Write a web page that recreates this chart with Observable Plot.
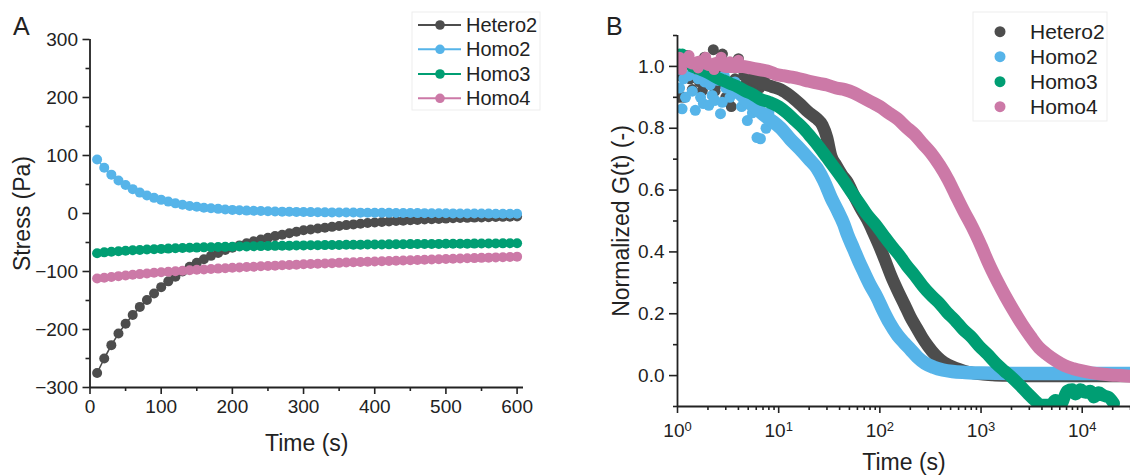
<!DOCTYPE html>
<html><head><meta charset="utf-8">
<script src="https://cdn.jsdelivr.net/npm/d3@7"></script>
<script src="https://cdn.jsdelivr.net/npm/@observablehq/plot@0.6"></script>
<style>
html,body{margin:0;padding:0;background:#fff;}
#wrap{position:relative;width:1130px;height:475px;overflow:hidden;font-family:"Liberation Sans",Arial,sans-serif;}
#pa,#pb,#overlay{position:absolute;top:0;}
#pa{left:0;} #pb{left:565px;} #overlay{left:0;pointer-events:none;}
</style></head>
<body><div id="wrap"><div id="pa"></div><div id="pb"></div><svg id="overlay" width="1130" height="475"></svg></div>
<script>
// ---------- Panel A data ----------
const seriesNames = ["Hetero2", "Homo2", "Homo3", "Homo4"];
const seriesColors = ["#4d4d4d", "#56b4e9", "#009e73", "#cc79a7"];
const timeA = [10,20,30,40,50,60,70,80,90,100,110,120,130,140,150,160,170,180,190,200,
  210,220,230,240,250,260,270,280,290,300,310,320,330,340,350,360,370,380,390,400,
  410,420,430,440,450,460,470,480,490,500,510,520,530,540,550,560,570,580,590,600];
const hetero2A = [-275,-250,-227,-207,-190,-175,-161,-149,-138,-127,
  -117,-109,-100,-92,-85,-79,-73,-68,-63,-59,
  -55,-51.5,-48,-45,-42,-39,-36.5,-34,-31.5,-29,
  -27.5,-26,-24.5,-23,-21.5,-20,-18.8,-17.6,-16.5,-15.5,
  -14.6,-13.8,-13,-12.3,-11.6,-11,-10.4,-9.8,-9.3,-8.8,
  -8.3,-7.9,-7.5,-7.1,-6.7,-6.4,-6.1,-5.8,-5.5,-5.2];
const homo2A = [93,79,67,57,49,42,36,31,27,23.5,
  20.5,17.5,15,13,11.5,10,9,8,7,6.2,
  5.6,5,4.6,4.2,3.8,3.5,3.2,3,2.8,2.6,
  2.4,2.2,2,1.9,1.8,1.7,1.6,1.5,1.4,1.3,
  1.2,1.1,1,0.9,0.8,0.7,0.6,0.5,0.4,0.3,
  0.2,0.1,0,0,-0.1,-0.2,-0.3,-0.4,-0.5,-0.5];
const homo3A = [-68.5,-67,-66,-65,-64.2,-63.5,-62.8,-62.2,-61.6,-61,
  -60.5,-60,-59.6,-59.2,-58.8,-58.4,-58.1,-57.8,-57.5,-57.2,
  -57,-56.7,-56.5,-56.2,-56,-55.8,-55.6,-55.4,-55.2,-55,
  -54.8,-54.7,-54.5,-54.3,-54.2,-54,-53.9,-53.7,-53.6,-53.4,
  -53.3,-53.2,-53,-52.9,-52.8,-52.7,-52.6,-52.5,-52.4,-52.3,
  -52.2,-52.1,-52,-51.9,-51.8,-51.7,-51.6,-51.5,-51.4,-51.3];
const homo4A = [-112,-110.8,-109.4,-108,-106.8,-105.6,-104.5,-103.4,-102.3,-101.3,
  -100.4,-99.5,-98.7,-97.9,-97.1,-96.4,-95.7,-95,-94.3,-93.6,
  -93,-92.3,-91.7,-91.1,-90.5,-89.9,-89.3,-88.7,-88.2,-87.6,
  -87.1,-86.6,-86.1,-85.6,-85.1,-84.6,-84.1,-83.6,-83.2,-82.7,
  -82.3,-81.8,-81.4,-81,-80.5,-80.1,-79.7,-79.3,-78.9,-78.5,
  -78.1,-77.7,-77.3,-76.9,-76.5,-76.1,-75.7,-75.3,-74.9,-74.4];
const yMajorA = [-300,-200,-100,0,100,200,300];
const yMinorA = [-250,-150,-50,50,150,250];
const xMajorA = [0,100,200,300,400,500,600];
const xMinorA = [50,150,250,350,450,550];

// ---------- Panel B data: [time (s), normalized G(t)] ----------
const hetero2Noise = [[1.0,0.97],[1.05,0.90],[1.1,1.0],[1.16,0.90],[1.26,1.035],[1.33,0.96],[1.4,0.925],[1.55,0.99],
  [1.65,0.95],[1.76,0.922],[1.85,1.03],[2.0,0.96],[2.1,1.0],[2.26,1.054],[2.35,0.92],[2.45,0.94],[2.6,0.98],[2.78,1.04],
  [2.9,0.95],[3.0,0.90],[3.2,0.89],[3.4,0.87],[3.55,0.93],[3.7,0.96],[4.0,1.025],[4.2,0.93],[4.5,0.97],[4.8,0.95],
  [5.3,0.93],[5.8,0.97],[6.5,0.93],[7.2,0.96]];
const hetero2B = [[5,0.97],[6,0.955],[7,0.945],[8.5,0.935],[10.5,0.925],[13,0.905],[16,0.88],[20,0.85],[24,0.83],
  [27,0.81],[30,0.77],[33,0.71],[37,0.68],[42,0.65],[48,0.625],[55,0.585],[65,0.54],[75,0.505],[87,0.46],[100,0.415],
  [115,0.365],[130,0.32],[150,0.275],[175,0.23],[200,0.19],[230,0.155],[260,0.125],[300,0.095],[350,0.068],[400,0.05],
  [470,0.035],[560,0.024],[680,0.015],[820,0.009],[1000,0.005],[1300,0.002],[1800,0.0],[2500,-0.001],[4000,-0.001],
  [7000,-0.001],[12000,-0.001],[20000,-0.001],[30000,-0.001]];
const homo2Noise = [[1.0,0.99],[1.05,0.93],[1.11,0.863],[1.15,0.96],[1.2,0.90],[1.3,0.97],[1.4,0.92],[1.5,0.858],
  [1.6,0.96],[1.69,0.90],[1.8,0.88],[1.85,0.95],[2.04,0.874],[2.1,0.94],[2.2,0.906],[2.35,0.89],[2.47,0.955],
  [2.66,0.847],[2.77,0.884],[2.9,0.97],[3.0,0.93],[3.3,0.90],[3.7,0.95],[4.3,0.87],[4.9,0.825],[5.5,0.85],
  [6.1,0.77],[6.6,0.766],[7.5,0.80],[8.0,0.85]];
const homo2B = [[3.5,0.93],[4.2,0.91],[5,0.885],[6,0.865],[7,0.845],[8.5,0.825],[10.5,0.80],[13,0.765],[16,0.735],
  [20,0.70],[24,0.67],[28,0.63],[33,0.575],[38,0.535],[44,0.49],[48,0.455],[55,0.41],[62,0.37],[70,0.333],[81,0.29],
  [93,0.255],[108,0.21],[125,0.17],[150,0.13],[175,0.105],[200,0.085],[235,0.06],[280,0.04],[340,0.027],[420,0.018],
  [520,0.013],[700,0.01],[1000,0.008],[2000,0.007],[5000,0.007],[10000,0.007],[20000,0.007],[30000,0.007]];
const homo3Noise = [[1.0,1.01],[1.05,1.04],[1.12,1.04],[1.2,1.01],[1.3,1.02]];
const homo3B = [[1.4,1.0],[1.7,0.99],[2,0.98],[2.4,0.965],[2.8,0.955],[3.3,0.945],[3.9,0.935],[4.7,0.92],[5.5,0.91],
  [6.5,0.895],[8,0.885],[10,0.87],[12,0.85],[14.5,0.825],[17.5,0.80],[21,0.77],[25,0.74],[30,0.705],[36,0.67],
  [43,0.635],[52,0.595],[62,0.56],[75,0.52],[90,0.49],[108,0.455],[130,0.42],[155,0.39],[185,0.355],[220,0.325],
  [265,0.29],[320,0.26],[385,0.235],[460,0.205],[550,0.18],[660,0.15],[800,0.125],[960,0.095],[1150,0.07],[1400,0.04],
  [1700,0.015],[2000,-0.005],[2400,-0.03],[2900,-0.058],[3400,-0.08],[3865,-0.095],[4850,-0.095],[5440,-0.08],
  [6090,-0.095],[7100,-0.05],[7950,-0.045],[8570,-0.06],[9600,-0.045],[10760,-0.055],[12050,-0.05],[13000,-0.07],
  [14570,-0.055],[16330,-0.065],[18290,-0.07],[20480,-0.09]];
const homo4Noise = [[1.05,1.03],[1.1,0.99],[1.3,1.035],[1.6,0.995],[1.9,1.03],[2.3,0.99],[2.7,1.03],[3.3,1.015],[4.0,1.02]];
const homo4B = [[1,1.01],[1.2,1.02],[1.45,1.01],[1.75,1.015],[2.1,1.005],[2.5,1.01],[3,1.0],[3.6,1.0],[4.4,1.0],
  [5.3,0.995],[6.4,0.99],[7.7,0.985],[9.3,0.975],[11,0.97],[13.5,0.965],[16,0.96],[20,0.952],[25,0.945],[30,0.94],
  [37,0.93],[45,0.925],[55,0.915],[67,0.9],[82,0.885],[100,0.87],[122,0.85],[150,0.83],[180,0.805],[220,0.78],
  [265,0.75],[320,0.72],[390,0.68],[470,0.635],[560,0.585],[680,0.53],[820,0.48],[1000,0.42],[1200,0.36],[1450,0.305],
  [1750,0.255],[2100,0.21],[2550,0.165],[3100,0.125],[3750,0.09],[4500,0.068],[5500,0.048],[6700,0.032],[8200,0.022],
  [10000,0.015],[12500,0.009],[15500,0.005],[19000,0.002],[24000,0.0],[30000,-0.002]];
const yMajorB = [0,0.2,0.4,0.6,0.8,1.0];
const yMinorB = [-0.1,0.1,0.3,0.5,0.7,0.9,1.1];
const xMajorB = [1,10,100,1000,10000];
const xMinorB = [2,3,4,5,6,7,8,9,20,30,40,50,60,70,80,90,200,300,400,500,600,700,800,900,
  2000,3000,4000,5000,6000,7000,8000,9000,20000,30000];
const supDigits = ["⁰","¹","²","³","⁴"];

const FONT = '"Liberation Sans", Arial, sans-serif';
const INK = "#222";
const TICKFS = 19, TITLEFS = 23;

// ---------- Panel A ----------
const seriesA = [hetero2A, homo2A, homo3A, homo4A].map((vals, i) =>
  vals.map((v, j) => ({t: timeA[j], v, name: seriesNames[i]})));
const marksA = [];
seriesA.forEach((rows, i) => {
  marksA.push(Plot.line(rows, {x: "t", y: "v", stroke: seriesColors[i], strokeWidth: 1.6}));
  marksA.push(Plot.dot(rows, {x: "t", y: "v", r: 5, fill: seriesColors[i]}));
});
const plotA = Plot.plot({
  width: 565, height: 475,
  marginLeft: 89.5, marginRight: 42, marginTop: 39, marginBottom: 88,
  x: {domain: [0, 609]},
  y: {domain: [-300, 300]},
  style: {fontFamily: FONT, color: INK, background: "transparent", overflow: "visible"},
  marks: [
    ...marksA,
    Plot.axisY({ticks: yMajorA, tickSize: 7, tickPadding: 5, fontSize: TICKFS, strokeWidth: 1.6, label: null}),
    Plot.axisY({ticks: yMinorA, tickSize: 4, tickFormat: () => "", strokeWidth: 1.6, label: null}),
    Plot.axisX({ticks: xMajorA, tickSize: 7, tickPadding: 5, fontSize: TICKFS, strokeWidth: 1.6, label: null}),
    Plot.axisX({ticks: xMinorA, tickSize: 4, tickFormat: () => "", strokeWidth: 1.6, label: null}),
    Plot.ruleX([0], {stroke: INK, strokeWidth: 1.8}),
    Plot.ruleY([-300], {stroke: INK, strokeWidth: 1.8}),
    Plot.text(["Stress (Pa)"], {text: d => d, frameAnchor: "left", dx: -60, rotate: -90, textAnchor: "middle", lineAnchor: "bottom", fontSize: TITLEFS, fill: INK}),
    Plot.text(["Time (s)"], {text: d => d, frameAnchor: "bottom", dy: 63, textAnchor: "middle", lineAnchor: "bottom", fontSize: TITLEFS, fill: INK})
  ]
});
document.getElementById("pa").appendChild(plotA);

// ---------- Panel B ----------
const toRows = (arr, name) => arr.map(([t, g]) => ({t, g, name}));
const smoothB = [hetero2B, homo2B, homo3B, homo4B];
const noiseB = [hetero2Noise, homo2Noise, homo3Noise, homo4Noise];
const bandW = [12.5, 13.5, 12.5, 13];
const marksB = [];
seriesNames.forEach((name, i) => {
  marksB.push(Plot.dot(toRows(noiseB[i], name), {x: "t", y: "g", r: 5.5, fill: seriesColors[i], clip: true}));
  marksB.push(Plot.line(toRows(smoothB[i], name), {x: "t", y: "g", stroke: seriesColors[i], strokeWidth: bandW[i],
    strokeLinecap: "round", strokeLinejoin: "round", curve: "monotone-x", clip: true}));
});
const plotB = Plot.plot({
  width: 565, height: 475,
  marginLeft: 112, marginRight: 0, marginTop: 35, marginBottom: 69,
  x: {type: "log", domain: [1, 30000]},
  y: {domain: [-0.1, 1.1]},
  style: {fontFamily: FONT, color: INK, background: "transparent", overflow: "visible"},
  marks: [
    ...marksB,
    Plot.axisY({ticks: yMajorB, tickFormat: d3.format(".1f"), tickSize: 8, tickPadding: 5, fontSize: TICKFS, strokeWidth: 1.6, label: null}),
    Plot.axisY({ticks: yMinorB, tickSize: 4, tickFormat: () => "", strokeWidth: 1.6, label: null}),
    Plot.axisX({ticks: xMajorB, tickFormat: d => "10" + supDigits[Math.round(Math.log10(d))], tickSize: 7, tickPadding: 10, fontSize: TICKFS, strokeWidth: 1.6, label: null}),
    Plot.axisX({ticks: xMinorB, tickSize: 4, tickFormat: () => "", strokeWidth: 1.6, label: null}),
    Plot.ruleX([1], {stroke: INK, strokeWidth: 1.8}),
    Plot.ruleY([-0.1], {stroke: INK, strokeWidth: 1.8}),
    Plot.text(["Normalized G(t) (-)"], {text: d => d, frameAnchor: "left", dx: -49, rotate: -90, textAnchor: "middle", lineAnchor: "bottom", fontSize: TITLEFS, fill: INK}),
    Plot.text(["Time (s)"], {text: d => d, frameAnchor: "bottom", dy: 63, textAnchor: "middle", lineAnchor: "bottom", fontSize: TITLEFS, fill: INK})
  ]
});
document.getElementById("pb").appendChild(plotB);

// turn the unicode superscript exponents into real raised text
plotB.querySelectorAll("text").forEach(el => {
  const s = el.textContent;
  const k = supDigits.findIndex(c => s === "10" + c);
  if (k >= 0) {
    el.textContent = "10";
    const ts = document.createElementNS("http://www.w3.org/2000/svg", "tspan");
    ts.setAttribute("dy", "-0.45em");
    ts.setAttribute("font-size", "13");
    ts.textContent = String(k);
    el.appendChild(ts);
  }
});

// ---------- Overlay: panel letters and legends ----------
const ov = d3.select("#overlay").style("font-family", FONT);
ov.append("text").attr("x", 13).attr("y", 35).attr("font-size", 25).attr("fill", INK).text("A");
ov.append("text").attr("x", 606).attr("y", 35).attr("font-size", 25).attr("fill", INK).text("B");

// legend A (line + dot)
const legA = ov.append("g").attr("transform", "translate(412,12)");
legA.append("rect").attr("width", 128).attr("height", 98).attr("fill", "#fff").attr("stroke", "#ededed");
const rowA = [13, 37.3, 62, 86.3];
seriesNames.forEach((name, i) => {
  const g = legA.append("g").attr("transform", `translate(0,${rowA[i]})`);
  g.append("line").attr("x1", 6).attr("x2", 49).attr("stroke", seriesColors[i]).attr("stroke-width", 2);
  g.append("circle").attr("cx", 28).attr("r", 4.8).attr("fill", seriesColors[i]);
  g.append("text").attr("x", 54).attr("y", 7).attr("font-size", 20).attr("fill", INK).text(name);
});
// legend B (dots)
const legB = ov.append("g").attr("transform", "translate(973,12)");
legB.append("rect").attr("width", 134).attr("height", 109).attr("fill", "#fff").attr("stroke", "#ededed");
const rowB = [19.7, 44.7, 69.7, 94.7];
seriesNames.forEach((name, i) => {
  const g = legB.append("g").attr("transform", `translate(0,${rowB[i]})`);
  g.append("circle").attr("cx", 27).attr("r", 5.5).attr("fill", seriesColors[i]);
  g.append("text").attr("x", 57).attr("y", 7.5).attr("font-size", 21).attr("fill", INK).text(name);
});
</script></body></html>
